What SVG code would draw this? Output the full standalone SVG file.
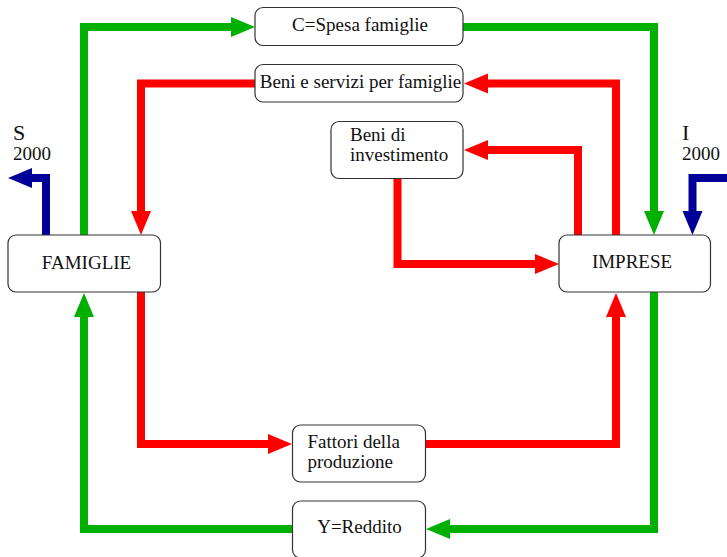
<svg xmlns="http://www.w3.org/2000/svg" width="727" height="557" viewBox="0 0 727 557">
  <style>
    .box { fill: #ffffff; stroke: #333333; stroke-width: 1.2; }
    .lbl { font-family: "Liberation Serif", "Times New Roman", serif; font-size: 19px; fill: #111111; }
    .big { font-size: 22px; }
    .flow { fill: none; stroke-width: 8; stroke-linejoin: miter; stroke-linecap: butt; }
    .green { stroke: #00b000; }
    .red { stroke: #ff0000; }
    .blue { stroke: #000099; }
  </style>
  <defs>
    <marker id="headG" markerUnits="userSpaceOnUse" markerWidth="24" markerHeight="20" refX="1" refY="10" orient="auto" overflow="visible">
      <path d="M0,0 L24,10 L0,20 Z" fill="#00b000"/>
    </marker>
    <marker id="headR" markerUnits="userSpaceOnUse" markerWidth="24" markerHeight="20" refX="1" refY="10" orient="auto" overflow="visible">
      <path d="M0,0 L24,10 L0,20 Z" fill="#ff0000"/>
    </marker>
    <marker id="headB" markerUnits="userSpaceOnUse" markerWidth="24" markerHeight="20" refX="1" refY="10" orient="auto" overflow="visible">
      <path d="M0,0 L24,10 L0,20 Z" fill="#000099"/>
    </marker>
  </defs>

  <rect width="727" height="557" fill="#ffffff"/>

  <g id="connectors">
    <!-- money flows -->
    <path class="flow green" d="M84,235 V27 H232" marker-end="url(#headG)"/>
    <path class="flow green" d="M463,27 H654 V212" marker-end="url(#headG)"/>
    <path class="flow green" d="M654,292 V529 H449" marker-end="url(#headG)"/>
    <path class="flow green" d="M292,529 H84 V316" marker-end="url(#headG)"/>
    <!-- real flows -->
    <path class="flow red" d="M616,235 V83.5 H487" marker-end="url(#headR)"/>
    <path class="flow red" d="M255,83.5 H141 V212" marker-end="url(#headR)"/>
    <path class="flow red" d="M578,235 V150 H487" marker-end="url(#headR)"/>
    <path class="flow red" d="M397.5,178 V264 H536" marker-end="url(#headR)"/>
    <path class="flow red" d="M141,292 V444 H269" marker-end="url(#headR)"/>
    <path class="flow red" d="M426,444 H616 V316" marker-end="url(#headR)"/>
    <!-- savings out, investment in -->
    <path class="flow blue" d="M727,178 H692.5 V212" marker-end="url(#headB)"/>
    <path class="flow blue" d="M46,235 V178 H31" marker-end="url(#headB)"/>
  </g>

  <g id="spesa">
    <rect class="box" x="255" y="7.5" width="208" height="38" rx="8"/>
    <text class="lbl" x="360" y="31" text-anchor="middle">C=Spesa famiglie</text>
  </g>
  <g id="beni-servizi">
    <rect class="box" x="255" y="64.5" width="208" height="37.5" rx="8"/>
    <text class="lbl" x="360.5" y="88" text-anchor="middle">Beni e servizi per famiglie</text>
  </g>
  <g id="beni-investimento">
    <rect class="box" x="331" y="121.5" width="132" height="57" rx="8"/>
    <text class="lbl" x="350" y="141">Beni di</text>
    <text class="lbl" x="350" y="161">investimento</text>
  </g>
  <g id="imprese">
    <rect class="box" x="559" y="235" width="151.5" height="57" rx="8"/>
    <text class="lbl" x="632" y="268" text-anchor="middle">IMPRESE</text>
  </g>
  <g id="famiglie">
    <rect class="box" x="8" y="235" width="152.5" height="57" rx="8"/>
    <text class="lbl" x="86.5" y="269" text-anchor="middle">FAMIGLIE</text>
  </g>
  <g id="fattori">
    <rect class="box" x="292.5" y="425" width="133" height="57" rx="8"/>
    <text class="lbl" x="307.5" y="448">Fattori della</text>
    <text class="lbl" x="307.5" y="468">produzione</text>
  </g>
  <g id="reddito">
    <rect class="box" x="292.5" y="501" width="133" height="57" rx="8"/>
    <text class="lbl" x="359.5" y="533" text-anchor="middle">Y=Reddito</text>
  </g>

  <g id="risparmio">
    <text class="lbl big" x="13" y="140">S</text>
    <text class="lbl" x="13" y="159.5">2000</text>
  </g>
  <g id="investimento">
    <text class="lbl big" x="682" y="140">I</text>
    <text class="lbl" x="682" y="159.5">2000</text>
  </g>
</svg>
